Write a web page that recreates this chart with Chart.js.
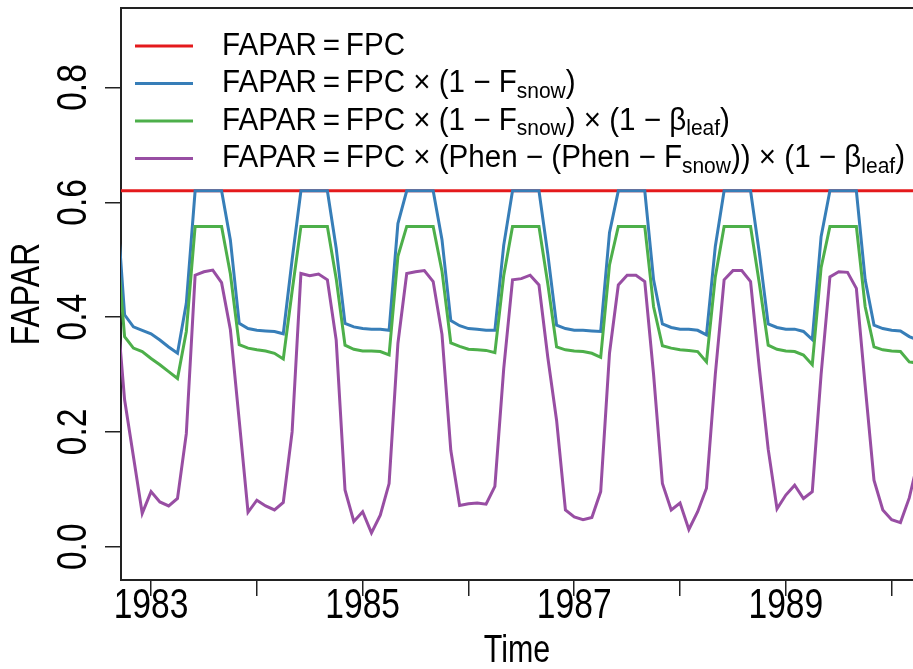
<!DOCTYPE html>
<html>
<head>
<meta charset="utf-8">
<script src="https://cdn.jsdelivr.net/npm/chart.js@4.4.0/dist/chart.umd.min.js"></script>
<style>
  html, body { margin: 0; padding: 0; background: #fff; overflow: hidden; }
  #wrap { width: 913px; height: 669px; }
</style>
</head>
<body>
<div id="wrap"><canvas id="chart"></canvas></div>
<script>
// monthly series, first value is September 1982
const startYear = 1982
const startMonth = 9

const fpc = [
  0.62, 0.62, 0.62, 0.62,
  0.62, 0.62, 0.62, 0.62, 0.62, 0.62, 0.62, 0.62, 0.62, 0.62, 0.62, 0.62,
  0.62, 0.62, 0.62, 0.62, 0.62, 0.62, 0.62, 0.62, 0.62, 0.62, 0.62, 0.62,
  0.62, 0.62, 0.62, 0.62, 0.62, 0.62, 0.62, 0.62, 0.62, 0.62, 0.62, 0.62,
  0.62, 0.62, 0.62, 0.62, 0.62, 0.62, 0.62, 0.62, 0.62, 0.62, 0.62, 0.62,
  0.62, 0.62, 0.62, 0.62, 0.62, 0.62, 0.62, 0.62, 0.62, 0.62, 0.62, 0.62,
  0.62, 0.62, 0.62, 0.62, 0.62, 0.62, 0.62, 0.62, 0.62, 0.62, 0.62, 0.62,
  0.62, 0.62, 0.62, 0.62, 0.62, 0.62, 0.62, 0.62, 0.62, 0.62, 0.62, 0.62,
  0.62, 0.62, 0.62, 0.62
]

const fpcSnow = [
  0.62, 0.404, 0.383, 0.377,
  0.371, 0.360, 0.348, 0.337, 0.424, 0.62, 0.62, 0.62, 0.62, 0.534, 0.389, 0.380,
  0.377, 0.376, 0.375, 0.371, 0.500, 0.62, 0.62, 0.62, 0.62, 0.520, 0.389, 0.383,
  0.380, 0.379, 0.379, 0.377, 0.563, 0.62, 0.62, 0.62, 0.62, 0.535, 0.394, 0.385,
  0.380, 0.379, 0.377, 0.377, 0.525, 0.62, 0.62, 0.62, 0.62, 0.510, 0.386, 0.380,
  0.377, 0.377, 0.376, 0.375, 0.547, 0.62, 0.62, 0.62, 0.62, 0.465, 0.388, 0.382,
  0.379, 0.379, 0.377, 0.369, 0.523, 0.62, 0.62, 0.62, 0.62, 0.511, 0.388, 0.382,
  0.379, 0.379, 0.375, 0.361, 0.540, 0.62, 0.62, 0.62, 0.62, 0.465, 0.386, 0.380,
  0.377, 0.376, 0.366, 0.360
]

const fpcSnowLeaf = [
  0.550, 0.366, 0.346, 0.340,
  0.328, 0.317, 0.305, 0.293, 0.375, 0.558, 0.558, 0.558, 0.558, 0.475, 0.352, 0.346,
  0.343, 0.341, 0.337, 0.327, 0.445, 0.558, 0.558, 0.558, 0.558, 0.467, 0.351, 0.344,
  0.341, 0.341, 0.340, 0.334, 0.506, 0.558, 0.558, 0.558, 0.558, 0.480, 0.355, 0.349,
  0.344, 0.343, 0.342, 0.338, 0.472, 0.558, 0.558, 0.558, 0.558, 0.458, 0.348, 0.343,
  0.341, 0.340, 0.337, 0.330, 0.491, 0.558, 0.558, 0.558, 0.558, 0.418, 0.350, 0.346,
  0.343, 0.342, 0.340, 0.322, 0.470, 0.558, 0.558, 0.558, 0.558, 0.458, 0.351, 0.344,
  0.341, 0.340, 0.334, 0.317, 0.486, 0.558, 0.558, 0.558, 0.558, 0.418, 0.348, 0.343,
  0.341, 0.340, 0.322, 0.320
]

const fpcPhen = [
  0.440, 0.256, 0.157, 0.058,
  0.096, 0.078, 0.071, 0.084, 0.197, 0.473, 0.479, 0.482, 0.460, 0.378, 0.220, 0.060,
  0.081, 0.071, 0.064, 0.077, 0.200, 0.476, 0.472, 0.475, 0.465, 0.360, 0.099, 0.044,
  0.061, 0.024, 0.055, 0.110, 0.354, 0.476, 0.479, 0.481, 0.462, 0.370, 0.168, 0.072,
  0.075, 0.076, 0.074, 0.105, 0.310, 0.465, 0.467, 0.473, 0.456, 0.330, 0.220, 0.064,
  0.052, 0.047, 0.051, 0.096, 0.337, 0.456, 0.473, 0.473, 0.462, 0.300, 0.110, 0.064,
  0.076, 0.030, 0.061, 0.102, 0.300, 0.465, 0.481, 0.481, 0.462, 0.310, 0.170, 0.066,
  0.090, 0.107, 0.084, 0.096, 0.300, 0.470, 0.479, 0.478, 0.450, 0.280, 0.116, 0.064,
  0.047, 0.042, 0.085, 0.150
]

const yearTicks = [1983, 1984, 1985, 1986, 1987, 1988, 1989, 1990]
const yearLabels = ['1983', '', '1985', '', '1987', '', '1989', '']
const yTicks = [0, 0.2, 0.4, 0.6, 0.8]
const yLabels = ['0.0', '0.2', '0.4', '0.6', '0.8']

// legend text pieces, second value = subscript
const legendLabels = [
  [['FAPAR\u2009=\u2009FPC', false]],
  [['FAPAR\u2009=\u2009FPC × (1 − F', false], ['snow', true], [')', false]],
  [['FAPAR\u2009=\u2009FPC × (1 − F', false], ['snow', true], [') × (1 − β', false], ['leaf', true], [')', false]],
  [['FAPAR\u2009=\u2009FPC × (Phen − (Phen − F', false], ['snow', true], [')) × (1 − β', false], ['leaf', true], [')', false]]
]

const colors = ['#E41A1C', '#377EB8', '#4DAF4A', '#984EA3']
const FONT = '"Liberation Sans", Arial, sans-serif'
const INK = '#222'

function toPoints(values) {
    return values.map((v, i) => ({x: startYear + (startMonth - 1 + i) / 12, y: v}))
}

function drawText(ctx, text, x, y, size, align, rotate) {
    ctx.save()
    ctx.translate(x, y)
    if (rotate) ctx.rotate(-Math.PI / 2)
    ctx.scale(0.8, 1)
    ctx.font = size + 'px ' + FONT
    ctx.fillStyle = '#000'
    ctx.textAlign = align
    ctx.textBaseline = 'middle'
    ctx.fillText(text, 0, 0)
    ctx.restore()
}

function drawLegend(ctx, chart) {
    const size = 31
    const subSize = 22
    const left = 222
    const right = 905
    // widths in unscaled units, so the longest row can be fitted
    const rowWidth = row => row.reduce((w, seg) => {
        ctx.font = (seg[1] ? subSize : size) + 'px ' + FONT
        return w + ctx.measureText(seg[0]).width
    }, 0)
    const longest = Math.max(...legendLabels.map(rowWidth))
    const sx = (right - left) / longest

    legendLabels.forEach((row, i) => {
        const y = 46 + i * 37.5
        ctx.save()
        ctx.strokeStyle = chart.data.datasets[i].borderColor
        ctx.lineWidth = 3
        ctx.beginPath()
        ctx.moveTo(135, y)
        ctx.lineTo(193, y)
        ctx.stroke()
        ctx.restore()

        ctx.save()
        ctx.translate(left, y)
        ctx.scale(sx, 1)
        ctx.fillStyle = '#000'
        ctx.textBaseline = 'middle'
        ctx.textAlign = 'left'
        let x = 0
        row.forEach(seg => {
            ctx.font = (seg[1] ? subSize : size) + 'px ' + FONT
            ctx.fillText(seg[0], x, seg[1] ? 8 : 0)
            x += ctx.measureText(seg[0]).width
        })
        ctx.restore()
    })
}

const framePlugin = {
    id: 'frame',
    afterDraw(chart) {
        const ctx = chart.ctx
        const area = chart.chartArea
        const xs = chart.scales.x
        const ys = chart.scales.y

        ctx.save()
        ctx.strokeStyle = INK
        ctx.lineWidth = 2
        ctx.beginPath()
        ctx.moveTo(area.left, area.top)
        ctx.lineTo(area.right + 2, area.top)
        ctx.stroke()
        ctx.restore()

        yearTicks.forEach((year, i) => {
            if (yearLabels[i]) drawText(ctx, yearLabels[i], xs.getPixelForValue(year), 606, 42, 'center', false)
        })
        yTicks.forEach((v, i) => {
            drawText(ctx, yLabels[i], 74, ys.getPixelForValue(v), 42, 'center', true)
        })

        drawText(ctx, 'Time', (area.left + area.right) / 2, 652, 38, 'center', false)
        drawText(ctx, 'FAPAR', 28, (area.top + area.bottom) / 2, 40, 'center', true)

        drawLegend(ctx, chart)
    }
}

const datasets = [fpc, fpcSnow, fpcSnowLeaf, fpcPhen].map((values, i) => ({
    data: toPoints(values),
    borderColor: colors[i],
    borderWidth: 3,
    pointRadius: 0,
    tension: 0,
    clip: 0,
    order: 4 - i
}))

const axisGrid = {drawOnChartArea: false, drawTicks: true, tickLength: 16, color: INK, lineWidth: 1.5}
const axisBorder = {display: true, color: INK, width: 2}

new Chart(document.getElementById('chart'), {
    type: 'line',
    data: {datasets: datasets},
    options: {
        responsive: true,
        maintainAspectRatio: false,
        animation: false,
        devicePixelRatio: 1,
        layout: {padding: {top: 8, right: 0, left: 0, bottom: 0}},
        plugins: {legend: {display: false}, tooltip: {enabled: false}},
        scales: {
            x: {
                type: 'linear',
                min: 1982.716,
                max: 1990.202,
                afterBuildTicks: s => { s.ticks = yearTicks.map(v => ({value: v})) },
                afterFit: s => { s.height = 89 },
                ticks: {display: false},
                grid: axisGrid,
                border: axisBorder
            },
            y: {
                type: 'linear',
                min: -0.058,
                max: 0.9385,
                afterBuildTicks: s => { s.ticks = yTicks.map(v => ({value: v})) },
                afterFit: s => { s.width = 121 },
                ticks: {display: false},
                grid: axisGrid,
                border: axisBorder
            }
        }
    },
    plugins: [framePlugin]
})
</script>
</body>
</html>
